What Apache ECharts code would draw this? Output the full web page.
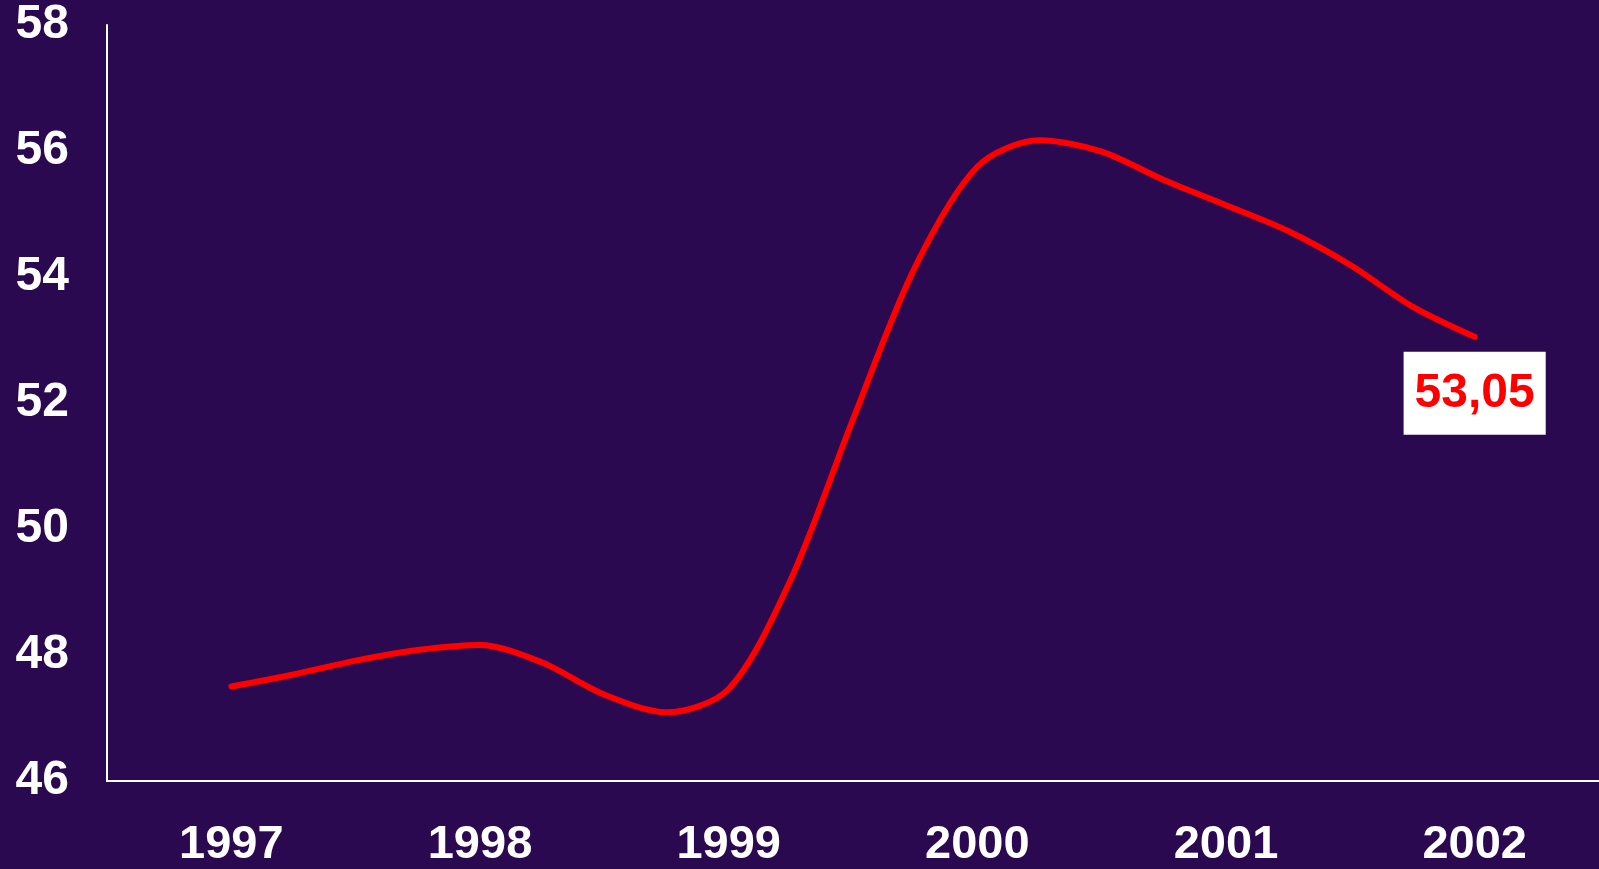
<!DOCTYPE html>
<html><head><meta charset="utf-8">
<script src="https://cdn.jsdelivr.net/npm/echarts@6/dist/echarts.min.js"></script>
<style>html,body{margin:0;padding:0;background:#2B0950;}#c{width:1599px;height:869px;}</style>
</head><body><div id="c"></div>
<script>
const years = ['1997','1998','1999','2000','2001','2002'];
const yTicks = [46,48,50,52,54,56,58];
const quarterTimes = [1997,1997.25,1997.5,1997.75,1998,1998.25,1998.5,1998.75,1999,1999.25,1999.5,1999.75,2000,2000.25,2000.5,2000.75,2001,2001.25,2001.5,2001.75,2002];
const values = [47.50,47.69,47.91,48.08,48.16,47.88,47.37,47.09,47.46,49.20,51.74,54.16,55.75,56.17,55.99,55.54,55.14,54.73,54.19,53.53,53.05];
const lastLabel = '53,05';

const data = quarterTimes.map((t,i)=>[t, values[i]]);
const last = data.length-1;

const chart = echarts.init(document.getElementById('c'));
chart.setOption({
  backgroundColor:'#2B0950',
  animation:false,
  grid:{left:107,right:0,top:25,bottom:82,containLabel:false},
  xAxis:[{
    type:'category', data:years, boundaryGap:true,
    axisLine:{show:true,lineStyle:{color:'#ffffff',width:2}},
    axisTick:{show:false},
    axisLabel:{color:'#ffffff',fontFamily:'Liberation Sans, Arial, sans-serif',fontWeight:'bold',fontSize:47,margin:41},
    splitLine:{show:false}
  },{
    type:'value', min:1996.5, max:2002.5, show:false
  }],
  yAxis:{
    type:'value', min:yTicks[0], max:yTicks[yTicks.length-1], interval:2,
    axisLine:{show:true,lineStyle:{color:'#ffffff',width:2}},
    axisTick:{show:false},
    splitLine:{show:false},
    axisLabel:{color:'#ffffff',fontFamily:'Liberation Sans, Arial, sans-serif',fontWeight:'bold',fontSize:48,margin:38,padding:[9,0,0,0]}
  },
  series:[{
    type:'line', xAxisIndex:1, data:data, smooth:0.3, showSymbol:false,
    lineStyle:{color:'#FF0000',width:6,cap:'round',join:'round'},
    markPoint:{
      symbol:'circle', symbolSize:0,
      data:[{coord:data[last], value:lastLabel}],
      label:{show:true, position:'bottom', distance:15, formatter:lastLabel, color:'#FF0000', backgroundColor:'#ffffff',
        fontFamily:'Liberation Sans, Arial, sans-serif', fontWeight:'bold', fontSize:48, lineHeight:50, padding:[17,11,16,11]}
    }
  }]
});
</script></body></html>
